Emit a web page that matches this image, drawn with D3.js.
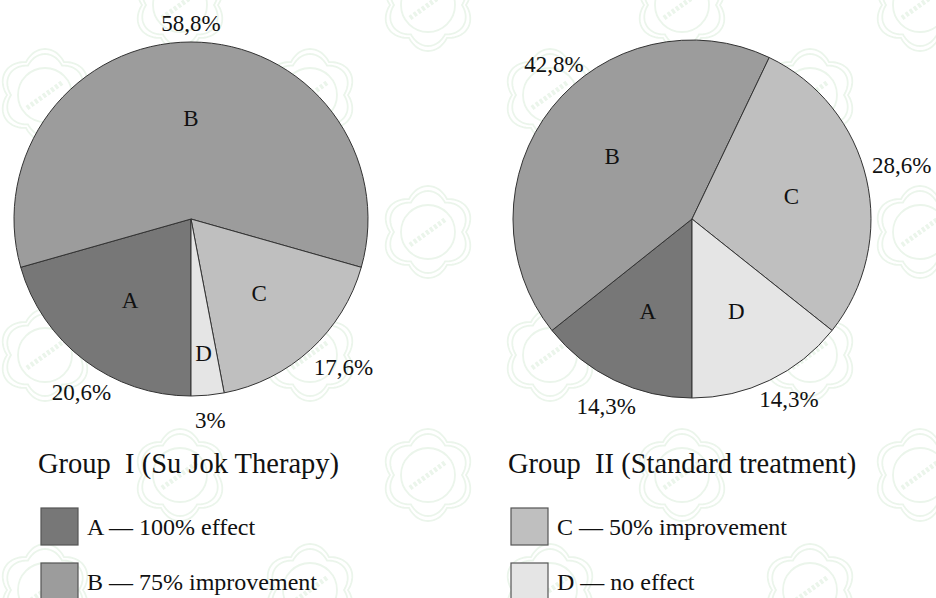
<!DOCTYPE html>
<html>
<head>
<meta charset="utf-8">
<script src="https://cdn.jsdelivr.net/npm/d3@7"></script>
</head>
<body style="margin:0;background:#fff">
<div id="chart"></div>
<script>
// Data
const categories = ['A', 'B', 'C', 'D'];
const group1Values = [20.6, 58.8, 17.6, 3];
const group2Values = [14.3, 42.8, 28.6, 14.3];
const group1Labels = ['20,6%', '58,8%', '17,6%', '3%'];
const group2Labels = ['14,3%', '42,8%', '28,6%', '14,3%'];
const groupTitles = ['Group\u00a0\u00a0I (Su Jok Therapy)', 'Group\u00a0\u00a0II (Standard treatment)'];
const legendKeys = [['A', 'B'], ['C', 'D']];
const legendTexts = [['A \u2014 100% effect', 'B \u2014 75% improvement'], ['C \u2014 50% improvement', 'D \u2014 no effect']];

const width = 936;
const height = 598;
const serif = "'Liberation Serif'";

const color = d3.scaleOrdinal()
    .domain(categories)
    .range(['#777777', '#9c9c9c', '#bfbfbf', '#e5e5e5']);

const svg = d3.select('#chart')
    .append('svg')
    .attr('width', width)
    .attr('height', height)
    .style('display', 'block');

// faint watermark pattern in the background
const wmRowsA = [5, 232, 475];
const wmRowsB = [95, 355, 590];
const wmColsA = [180, 428, 682, 920];
const wmColsB = [45, 310, 550, 810];
const wmCenters = [];
wmRowsA.forEach(y => wmColsA.forEach(x => wmCenters.push([x, y])));
wmRowsB.forEach(y => wmColsB.forEach(x => wmCenters.push([x, y])));

const petal = (r0, amp) => d3.lineRadial()
    .angle(d => d)
    .radius(d => r0 + amp * Math.abs(Math.cos(3 * d)))
    .curve(d3.curveLinearClosed)(d3.range(0, 2 * Math.PI, Math.PI / 90));

const wm = svg.append('g')
    .attr('fill', 'none')
    .attr('stroke', '#ebf5eb')
    .attr('stroke-width', 1.8);

wmCenters.forEach(([x, y]) => {
    const g = wm.append('g').attr('transform', `translate(${x},${y})`);
    g.append('path').attr('d', petal(38, 8));
    g.append('path').attr('d', petal(34, 7));
    g.append('circle').attr('r', 27);
    g.append('line')
        .attr('x1', -18).attr('y1', 13)
        .attr('x2', 18).attr('y2', -13)
        .attr('stroke-width', 5)
        .attr('stroke-dasharray', '3 2');
});

const pie = d3.pie()
    .sort(null)
    .startAngle(Math.PI)
    .endAngle(3 * Math.PI)
    .value(d => d);

// layout: pie placement plus small nudges for the outside labels
const groups = [
    { values: group1Values, labels: group1Labels, cx: 191, cy: 219, r: 177, tx: 38,
      nudge: [[14, 9], [0, 9], [14, -3], [0, -3]] },
    { values: group2Values, labels: group2Labels, cx: 692, cy: 219, r: 179, tx: 508,
      nudge: [[4, 0], [24, -26], [8, -8], [7, -7]] }
];

groups.forEach((grp, gi) => {
    const arcs = pie(grp.values);
    const arc = d3.arc().innerRadius(0).outerRadius(grp.r);
    const g = svg.append('g').attr('transform', `translate(${grp.cx},${grp.cy})`);

    g.selectAll('path')
        .data(arcs)
        .join('path')
        .attr('d', arc)
        .attr('fill', (d, i) => color(categories[i]))
        .attr('stroke', '#333')
        .attr('stroke-width', 1);

    // letters inside the slices
    g.selectAll('text.cat')
        .data(arcs)
        .join('text')
        .attr('class', 'cat')
        .attr('transform', d => {
            const k = (d.endAngle - d.startAngle) < 0.3 ? 0.76 : 0.57;
            const a = d3.arc().innerRadius(grp.r * k).outerRadius(grp.r * k);
            return `translate(${a.centroid(d)})`;
        })
        .attr('text-anchor', 'middle')
        .attr('dy', '0.35em')
        .style('font-family', serif)
        .style('font-size', '23px')
        .style('fill', '#111')
        .text((d, i) => categories[i]);

    // percentages outside
    const outer = d3.arc().innerRadius(grp.r + 28).outerRadius(grp.r + 28);
    g.selectAll('text.pct')
        .data(arcs)
        .join('text')
        .attr('class', 'pct')
        .attr('transform', (d, i) => {
            const [x, y] = outer.centroid(d);
            return `translate(${x + grp.nudge[i][0]},${y + grp.nudge[i][1]})`;
        })
        .attr('text-anchor', 'middle')
        .attr('dy', '0.35em')
        .style('font-family', serif)
        .style('font-size', '23px')
        .style('fill', '#111')
        .text((d, i) => grp.labels[i]);

    // title
    svg.append('text')
        .attr('x', grp.tx)
        .attr('y', 473)
        .style('font-family', serif)
        .style('font-size', '28.5px')
        .style('fill', '#111')
        .text(groupTitles[gi]);

    // legend
    const lg = svg.append('g')
        .selectAll('g')
        .data(legendKeys[gi])
        .join('g')
        .attr('transform', (d, i) => `translate(${grp.tx + 3},${508 + i * 55})`);

    lg.append('rect')
        .attr('width', 37)
        .attr('height', 37)
        .attr('fill', d => color(d))
        .attr('stroke', '#555')
        .attr('stroke-width', 1.2);

    lg.append('text')
        .attr('x', 46)
        .attr('y', 27)
        .style('font-family', serif)
        .style('font-size', '24px')
        .style('fill', '#111')
        .text((d, i) => legendTexts[gi][i]);
});
</script>
</body>
</html>
